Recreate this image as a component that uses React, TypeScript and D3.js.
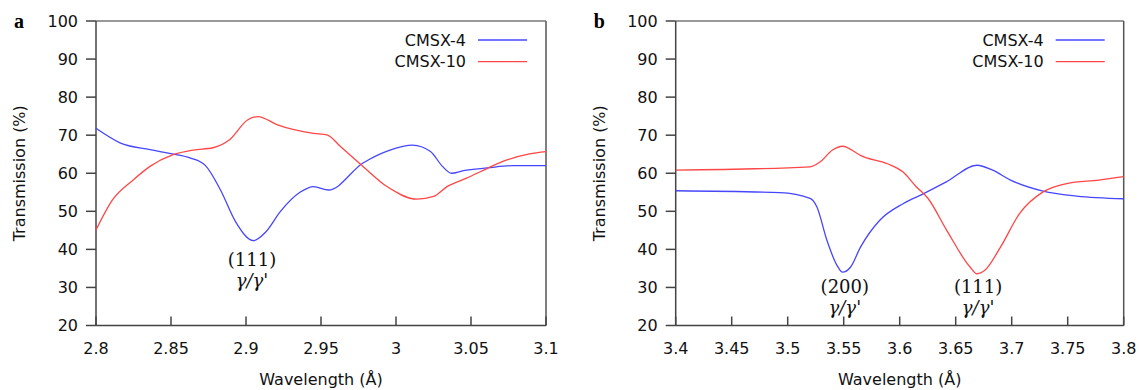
import React from 'react';
import * as d3 from 'd3';

// panel a: wavelength 2.8 - 3.1
const aBlueX = [2.8, 2.816, 2.836, 2.849, 2.863, 2.873, 2.883, 2.893, 2.905, 2.913, 2.923, 2.936, 2.945, 2.955, 2.978, 2.996, 3.011, 3.023, 3.031, 3.037, 3.045, 3.061, 3.078, 3.1];
const aBlueY = [71.8, 68.0, 66.2, 65.2, 64.0, 62.0, 55.6, 47.3, 42.3, 44.5, 50.0, 55.0, 56.5, 55.6, 62.7, 66.1, 67.4, 65.7, 61.8, 60.0, 60.7, 61.4, 62.0, 62.0];
const aRedX = [2.8, 2.811, 2.825, 2.836, 2.851, 2.865, 2.878, 2.889, 2.901, 2.908, 2.921, 2.945, 2.954, 2.963, 2.978, 2.994, 3.014, 3.025, 3.034, 3.047, 3.061, 3.074, 3.089, 3.1];
const aRedY = [45.1, 53.0, 58.3, 61.8, 64.8, 66.1, 66.7, 68.8, 74.0, 74.9, 72.7, 70.5, 70.1, 67.0, 61.8, 56.5, 53.2, 53.9, 56.5, 58.7, 61.3, 63.5, 65.1, 65.7];

// panel b: wavelength 3.4 - 3.8
const bBlueX = [3.4, 3.493, 3.52, 3.526, 3.535, 3.544, 3.549, 3.556, 3.565, 3.582, 3.603, 3.621, 3.642, 3.669, 3.683, 3.699, 3.728, 3.758, 3.8];
const bBlueY = [55.4, 54.9, 53.4, 51.2, 42.4, 35.8, 34.0, 35.3, 40.6, 47.6, 52.0, 54.6, 57.8, 62.1, 60.8, 58.2, 55.3, 54.0, 53.3];
const bRedX = [3.4, 3.52, 3.529, 3.54, 3.549, 3.562, 3.565, 3.589, 3.603, 3.615, 3.625, 3.642, 3.663, 3.669, 3.676, 3.69, 3.707, 3.728, 3.749, 3.778, 3.8];
const bRedY = [60.8, 61.7, 63.0, 66.1, 67.1, 65.2, 64.7, 62.5, 60.3, 56.4, 53.5, 45.0, 35.3, 33.6, 34.5, 40.6, 49.4, 55.1, 57.3, 58.2, 59.1];

const yTicks = [20, 30, 40, 50, 60, 70, 80, 90, 100];
const aTicks = [2.8, 2.85, 2.9, 2.95, 3, 3.05, 3.1];
const bTicks = [3.4, 3.45, 3.5, 3.55, 3.6, 3.65, 3.7, 3.75, 3.8];
const seriesNames = ['CMSX-4', 'CMSX-10'];

const BLUE = '#4646ff';
const RED = '#ff4646';
const FONT = 'DejaVu Sans, sans-serif';
const INK = '#111';

const zip = (xs, ys) => xs.map((x, i) => [x, ys[i]]);

const Panel = ({ left, right, letter, domain, ticks, blue, red, notes, noteY }) => {
  const top = 21, bottom = 325.5;
  const x = d3.scaleLinear().domain(domain).range([left, right]);
  const y = d3.scaleLinear().domain([20, 100]).range([bottom, top]);
  const line = d3.line().x(d => x(d[0])).y(d => y(d[1])).curve(d3.curveMonotoneX);

  return (
    <g>
      <text x={left - 82} y={28} fontFamily="Liberation Serif, serif" fontWeight="bold" fontSize={20}>{letter}</text>
      {/* frame */}
      <line x1={left} x2={right} y1={top} y2={top} stroke="#777" strokeWidth={1.5} />
      <line x1={right} x2={right} y1={top} y2={bottom} stroke="#555" strokeWidth={1.5} />
      <line x1={left} x2={left} y1={top} y2={bottom} stroke="#444" strokeWidth={1.5} />
      <line x1={left} x2={right} y1={bottom} y2={bottom} stroke="#444" strokeWidth={1.5} />

      {yTicks.map(t => (
        <g key={t}>
          <line x1={left - 10} x2={left} y1={y(t)} y2={y(t)} stroke="#444" strokeWidth={1.5} />
          <text x={left - 18} y={y(t)} dy="0.36em" textAnchor="end" fontFamily={FONT} fontSize={16} fill={INK}>{t}</text>
        </g>
      ))}
      {ticks.map(t => (
        <g key={t}>
          <line x1={x(t)} x2={x(t)} y1={bottom - 9} y2={bottom} stroke="#444" strokeWidth={1.5} />
          <text x={x(t)} y={354} textAnchor="middle" fontFamily={FONT} fontSize={16} fill={INK}>{t}</text>
        </g>
      ))}

      <text transform={`translate(${left - 71},${(top + bottom) / 2}) rotate(-90)`} textAnchor="middle" fontFamily={FONT} fontSize={16} fill={INK}>Transmission (%)</text>
      <text x={(left + right) / 2} y={385} textAnchor="middle" fontFamily={FONT} fontSize={16} fill={INK}>Wavelength (Å)</text>

      <path d={line(blue)} fill="none" stroke={BLUE} strokeWidth={1.3} />
      <path d={line(red)} fill="none" stroke={RED} strokeWidth={1.3} />

      {seriesNames.map((s, i) => (
        <g key={s}>
          <text x={right - 80} y={40 + i * 21.7} dy="0.36em" textAnchor="end" fontFamily={FONT} fontSize={16} fill={INK}>{s}</text>
          <line x1={right - 68} x2={right - 19} y1={40 + i * 21.7} y2={40 + i * 21.7} stroke={i === 0 ? BLUE : RED} strokeWidth={1.3} />
        </g>
      ))}

      {notes.map(n => (
        <g key={n.label + n.at}>
          <text x={x(n.at)} y={noteY} textAnchor="middle" fontFamily="DejaVu Serif, serif" fontSize={18} fill={INK}>{n.label}</text>
          <text x={x(n.at)} y={noteY + 21} textAnchor="middle" fontFamily="DejaVu Serif, serif" fontSize={18} fill={INK}>
            <tspan fontStyle="italic">γ/γ</tspan><tspan>'</tspan>
          </text>
        </g>
      ))}
    </g>
  );
};

export default function App() {
  return (
    <svg width={1139} height={390} style={{ display: 'block', position: 'absolute', left: 0, top: 0, background: '#fff' }}>
      <Panel left={96} right={546} letter="a" domain={[2.8, 3.1]} ticks={aTicks}
        blue={zip(aBlueX, aBlueY)} red={zip(aRedX, aRedY)} noteY={266}
        notes={[{ label: '(111)', at: 2.904 }]} />
      <Panel left={675.7} right={1123.7} letter="b" domain={[3.4, 3.8]} ticks={bTicks}
        blue={zip(bBlueX, bBlueY)} red={zip(bRedX, bRedY)} noteY={293}
        notes={[{ label: '(200)', at: 3.551 }, { label: '(111)', at: 3.67 }]} />
    </svg>
  );
}
